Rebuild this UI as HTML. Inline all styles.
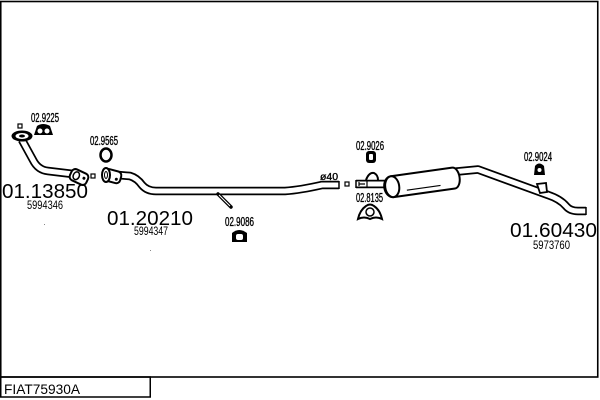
<!DOCTYPE html>
<html><head><meta charset="utf-8"><style>
html,body{margin:0;padding:0;background:#fff;}
svg{display:block;}
text{font-family:"Liberation Sans",sans-serif;fill:#000;}
.lb{stroke:#000;stroke-width:0.35;}
</style></head><body>
<svg width="600" height="400" viewBox="0 0 600 400" xmlns="http://www.w3.org/2000/svg">
<!-- frame -->
<rect x="0.75" y="1.5" width="597" height="375.5" fill="none" stroke="#000" stroke-width="1.6"/>
<rect x="0.75" y="377" width="149.5" height="20" fill="none" stroke="#000" stroke-width="1.5"/>
<text x="4" y="394" font-size="14" textLength="76" lengthAdjust="spacingAndGlyphs">FIAT75930A</text>

<!-- pipes: outline then white core -->
<g fill="none" stroke-linejoin="round">
  <path d="M22,140 L33,160 Q38,170 48,171 L73,174" stroke="#000" stroke-width="8.5"/>
  <path d="M22,140 L33,160 Q38,170 48,171 L73,174" stroke="#fff" stroke-width="5"/>
  <path d="M118,175 L130,176 Q137,178 142,185 Q147,191 156,191 L285,191 Q300,190 322,185 L339,185" stroke="#000" stroke-width="8.5"/>
  <path d="M118,175 L130,176 Q137,178 142,185 Q147,191 156,191 L285,191 Q300,190 322,185 L339,185" stroke="#fff" stroke-width="5"/>
  <path d="M452,172 L478,169.5 L548,195 Q560,199 566,206 Q570,211 578,211 L586,211" stroke="#000" stroke-width="8.5"/>
  <path d="M452,172 L478,169.5 L548,195 Q560,199 566,206 Q570,211 578,211 L586,211" stroke="#fff" stroke-width="5"/>
  <path d="M356,184 L393,184" stroke="#000" stroke-width="8.5"/>
  <path d="M356,184 L393,184" stroke="#fff" stroke-width="5"/>
</g>
<line x1="339" y1="181" x2="339" y2="189" stroke="#000" stroke-width="1.5"/>
<line x1="586" y1="207" x2="586" y2="215" stroke="#000" stroke-width="1.5"/>
<line x1="356" y1="180" x2="356" y2="188" stroke="#000" stroke-width="1.5"/>

<!-- hanger rod -->
<line x1="218" y1="194" x2="231" y2="207" stroke="#000" stroke-width="3.5" stroke-linecap="round"/>
<line x1="219" y1="195" x2="230" y2="206" stroke="#fff" stroke-width="1"/>

<!-- top-left flange -->
<rect x="18" y="124" width="4" height="4" fill="none" stroke="#000" stroke-width="1.2"/>
<ellipse cx="22" cy="136" rx="10.5" ry="5.5" fill="#000"/>
<ellipse cx="22" cy="136" rx="6.5" ry="3" fill="#fff"/>
<ellipse cx="22" cy="136" rx="3" ry="1.5" fill="#000"/>

<!-- left pipe end flange -->
<g transform="rotate(25 79 177)">
  <rect x="70" y="171" width="18" height="12" rx="4" fill="#fff" stroke="#000" stroke-width="2"/>
  <ellipse cx="76" cy="177" rx="3" ry="4" fill="none" stroke="#000" stroke-width="1.5"/>
  <circle cx="84" cy="176" r="1.5" fill="#000"/>
</g>
<rect x="91" y="174" width="4" height="4" fill="none" stroke="#000" stroke-width="1.2"/>

<!-- middle pipe flange -->
<g transform="rotate(15 112 176)">
  <rect x="104" y="170" width="17" height="12" rx="4" fill="#fff" stroke="#000" stroke-width="2"/>
  <circle cx="117" cy="178" r="1.5" fill="#000"/>
</g>
<ellipse cx="106" cy="175" rx="4" ry="7" fill="#fff" stroke="#000" stroke-width="2"/>
<ellipse cx="106" cy="175" rx="1.5" ry="3.5" fill="none" stroke="#000" stroke-width="1"/>
<rect x="345" y="182" width="4" height="4" fill="none" stroke="#000" stroke-width="1.2"/>

<!-- clamp 02.9225 -->
<path d="M34,135 L37,126 Q43,122 50,126 L53,135 Z" fill="#000"/>
<circle cx="40" cy="131" r="2.5" fill="#fff"/>
<circle cx="47" cy="131" r="2.5" fill="#fff"/>
<!-- ring 02.9565 -->
<ellipse cx="106" cy="155" rx="5.5" ry="6.5" fill="none" stroke="#000" stroke-width="2.5"/>
<!-- clamp 02.9086 -->
<path d="M232,242 L232,233 Q239,227 247,233 L247,242 Z" fill="#000"/>
<rect x="236" y="234" width="7" height="6" rx="2" fill="#fff"/>
<!-- clamp 02.9026 -->
<rect x="366" y="151" width="10" height="12" rx="3" fill="#000"/>
<rect x="369" y="154" width="4" height="6" rx="1" fill="#fff"/>
<!-- clamp 02.8135 -->
<path d="M358,219 Q360,210 366,206 Q370,203 374,206 Q380,210 382,219 Q376,216 370,219 Q364,216 358,219 Z" fill="#fff" stroke="#000" stroke-width="2"/>
<circle cx="370" cy="212" r="4" fill="none" stroke="#000" stroke-width="1.5"/>
<!-- clamp 02.9024 -->
<path d="M534,175 L535,166 Q539,161 544,166 L545,175 Z" fill="#000"/>
<circle cx="539.5" cy="170" r="2" fill="#fff"/>
<!-- bracket on right pipe -->
<path d="M537,184 L546,183 L547,192 L540,193 Z" fill="#fff" stroke="#000" stroke-width="1.8"/>

<!-- rear pipe flange marks and hanger loop -->
<path d="M359,182 L359,186 M359,184 L365,184" stroke="#000" stroke-width="1.2" fill="none"/>
<line x1="367" y1="180" x2="367" y2="188" stroke="#000" stroke-width="1.2"/>
<path d="M366,180 Q369,172 374,173 Q378,175 378,180" fill="none" stroke="#000" stroke-width="2"/>

<!-- muffler -->
<g transform="rotate(-8 422 183)">
  <path d="M392,172 L454,172 A6,10.5 0 0 1 454,193 L392,193 A8,10.5 0 0 1 392,172 Z" fill="#fff" stroke="#000" stroke-width="2"/>
  <ellipse cx="392" cy="182.5" rx="7" ry="10.5" fill="#fff" stroke="#000" stroke-width="2"/>
  <line x1="406" y1="188" x2="440" y2="188" stroke="#000" stroke-width="1.2"/>
</g>

<!-- labels -->
<text class="lb" x="31" y="122" font-size="12.5" textLength="28" lengthAdjust="spacingAndGlyphs">02.9225</text>
<text class="lb" x="90" y="145" font-size="12.5" textLength="28" lengthAdjust="spacingAndGlyphs">02.9565</text>
<text class="lb" x="225" y="226" font-size="12.5" textLength="29" lengthAdjust="spacingAndGlyphs">02.9086</text>
<text class="lb" x="356" y="150" font-size="12.5" textLength="28" lengthAdjust="spacingAndGlyphs">02.9026</text>
<text class="lb" x="356" y="202" font-size="12.5" textLength="27" lengthAdjust="spacingAndGlyphs">02.8135</text>
<text class="lb" x="524" y="161" font-size="12.5" textLength="28" lengthAdjust="spacingAndGlyphs">02.9024</text>
<text class="lb" x="320" y="180" font-size="10" textLength="18" lengthAdjust="spacingAndGlyphs">ø40</text>

<text x="2" y="198" font-size="20.5" textLength="86" lengthAdjust="spacingAndGlyphs">01.13850</text>
<text x="27" y="209" font-size="12" textLength="36" lengthAdjust="spacingAndGlyphs">5994346</text>
<text x="107" y="225" font-size="20.5" textLength="86" lengthAdjust="spacingAndGlyphs">01.20210</text>
<text x="134" y="235" font-size="12" textLength="34" lengthAdjust="spacingAndGlyphs">5994347</text>
<text x="510" y="237" font-size="20.5" textLength="87" lengthAdjust="spacingAndGlyphs">01.60430</text>
<text x="533" y="249" font-size="12" textLength="37" lengthAdjust="spacingAndGlyphs">5973760</text>

<rect x="44" y="224" width="1" height="1" fill="#888"/>
<rect x="150" y="250" width="1" height="1" fill="#888"/>
</svg>
</body></html>
